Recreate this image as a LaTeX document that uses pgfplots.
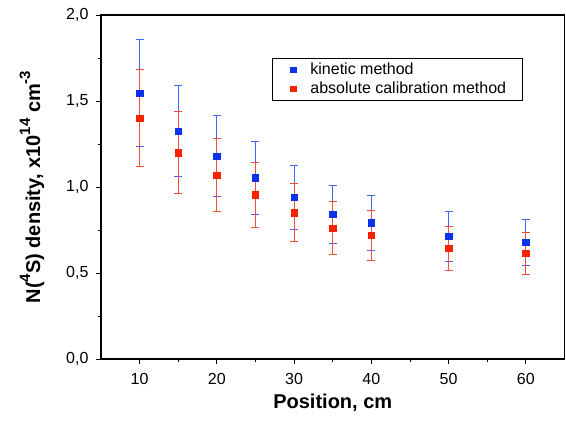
\documentclass[border=0pt]{standalone}
\usepackage{fontspec}
\setmainfont{Liberation Sans}
\usepackage{pgfplots}
\pgfplotsset{compat=1.18}
\definecolor{kinblue}{RGB}{10,50,235}
\definecolor{kinbar}{RGB}{70,100,250}
\definecolor{absred}{RGB}{245,35,0}
\definecolor{absbar}{RGB}{240,80,55}
\newcommand{\upsc}[1]{\raisebox{0.5em}{\fontsize{15}{17}\selectfont #1}}

\begin{document}
\begin{tikzpicture}[x=1pt,y=1pt]
\useasboundingbox (-101,-64) rectangle (465,359);
\begin{axis}[
  scale only axis, width=463.5pt, height=344pt,
  at={(0,0)}, anchor=south west,
  xmin=5, xmax=65, ymin=0, ymax=2,
  xtick={10,20,...,60}, minor xtick={15,25,...,55},
  ytick={0,0.5,...,2}, minor ytick={0.25,0.75,...,1.75},
  xtick pos=left, ytick pos=left, tick align=outside,
  major tick length=5pt, minor tick length=3pt,
  every tick/.style={black, line width=0.9pt},
  axis line style={line width=1.1pt},
  tick label style={font=\fontsize{16}{18}\selectfont},
  xticklabel style={yshift=-6pt},
  yticklabel style={xshift=-4pt, /pgf/number format/.cd, use comma, fixed, fixed zerofill, precision=1},
  /pgf/number format/assume math mode=true,
  xlabel={\textbf{Position, cm}},
  ylabel={\textbf{N(\upsc{4}S) density, x10\upsc{14} cm\upsc{-3}}},
  label style={font=\fontsize{20}{22}\selectfont\bfseries},
  xlabel style={at={(axis description cs:0.5,-0.128)}, anchor=center},
  ylabel style={at={(axis description cs:-0.149,0.5)}, anchor=center},
  legend style={at={(0.369,0.875)}, anchor=north west, draw=black, line width=0.8pt,
    font=\fontsize{16}{18}\selectfont, inner xsep=2pt, inner ysep=3pt, row sep=1.5pt},
  legend cell align=left,
  legend image code/.code={\path[draw=none, fill=none] (0pt,0pt) -- (34pt,0pt); \draw[#1, mark size=2.6pt] plot coordinates {(19pt,0pt)};},
]
\addplot[only marks, mark=square*, mark size=3.2pt, color=kinblue,
  error bars/.cd, y dir=both, y explicit,
  error bar style={kinbar, line width=0.8pt},
  error mark options={rotate=90, kinbar, mark size=4pt, line width=0.8pt}]
  coordinates {
  (10,1.546) +- (0,0.310)
  (15,1.324) +- (0,0.264)
  (20,1.179) +- (0,0.236)
  (25,1.053) +- (0,0.210)
  (30,0.939) +- (0,0.188)
  (35,0.843) +- (0,0.169)
  (40,0.792) +- (0,0.158)
  (50,0.713) +- (0,0.143)
  (60,0.678) +- (0,0.135)
};
\addplot[only marks, mark=square*, mark size=3.2pt, color=absred,
  error bars/.cd, y dir=both, y explicit,
  error bar style={absbar, line width=0.8pt},
  error mark options={rotate=90, absbar, mark size=4pt, line width=0.8pt}]
  coordinates {
  (10,1.401) +- (0,0.280)
  (15,1.200) +- (0,0.240)
  (20,1.069) +- (0,0.213)
  (25,0.955) +- (0,0.190)
  (30,0.850) +- (0,0.169)
  (35,0.761) +- (0,0.153)
  (40,0.719) +- (0,0.145)
  (50,0.645) +- (0,0.128)
  (60,0.616) +- (0,0.122)
};
\legend{kinetic method, absolute calibration method\hspace*{12pt}}
\end{axis}
\end{tikzpicture}
\end{document}
